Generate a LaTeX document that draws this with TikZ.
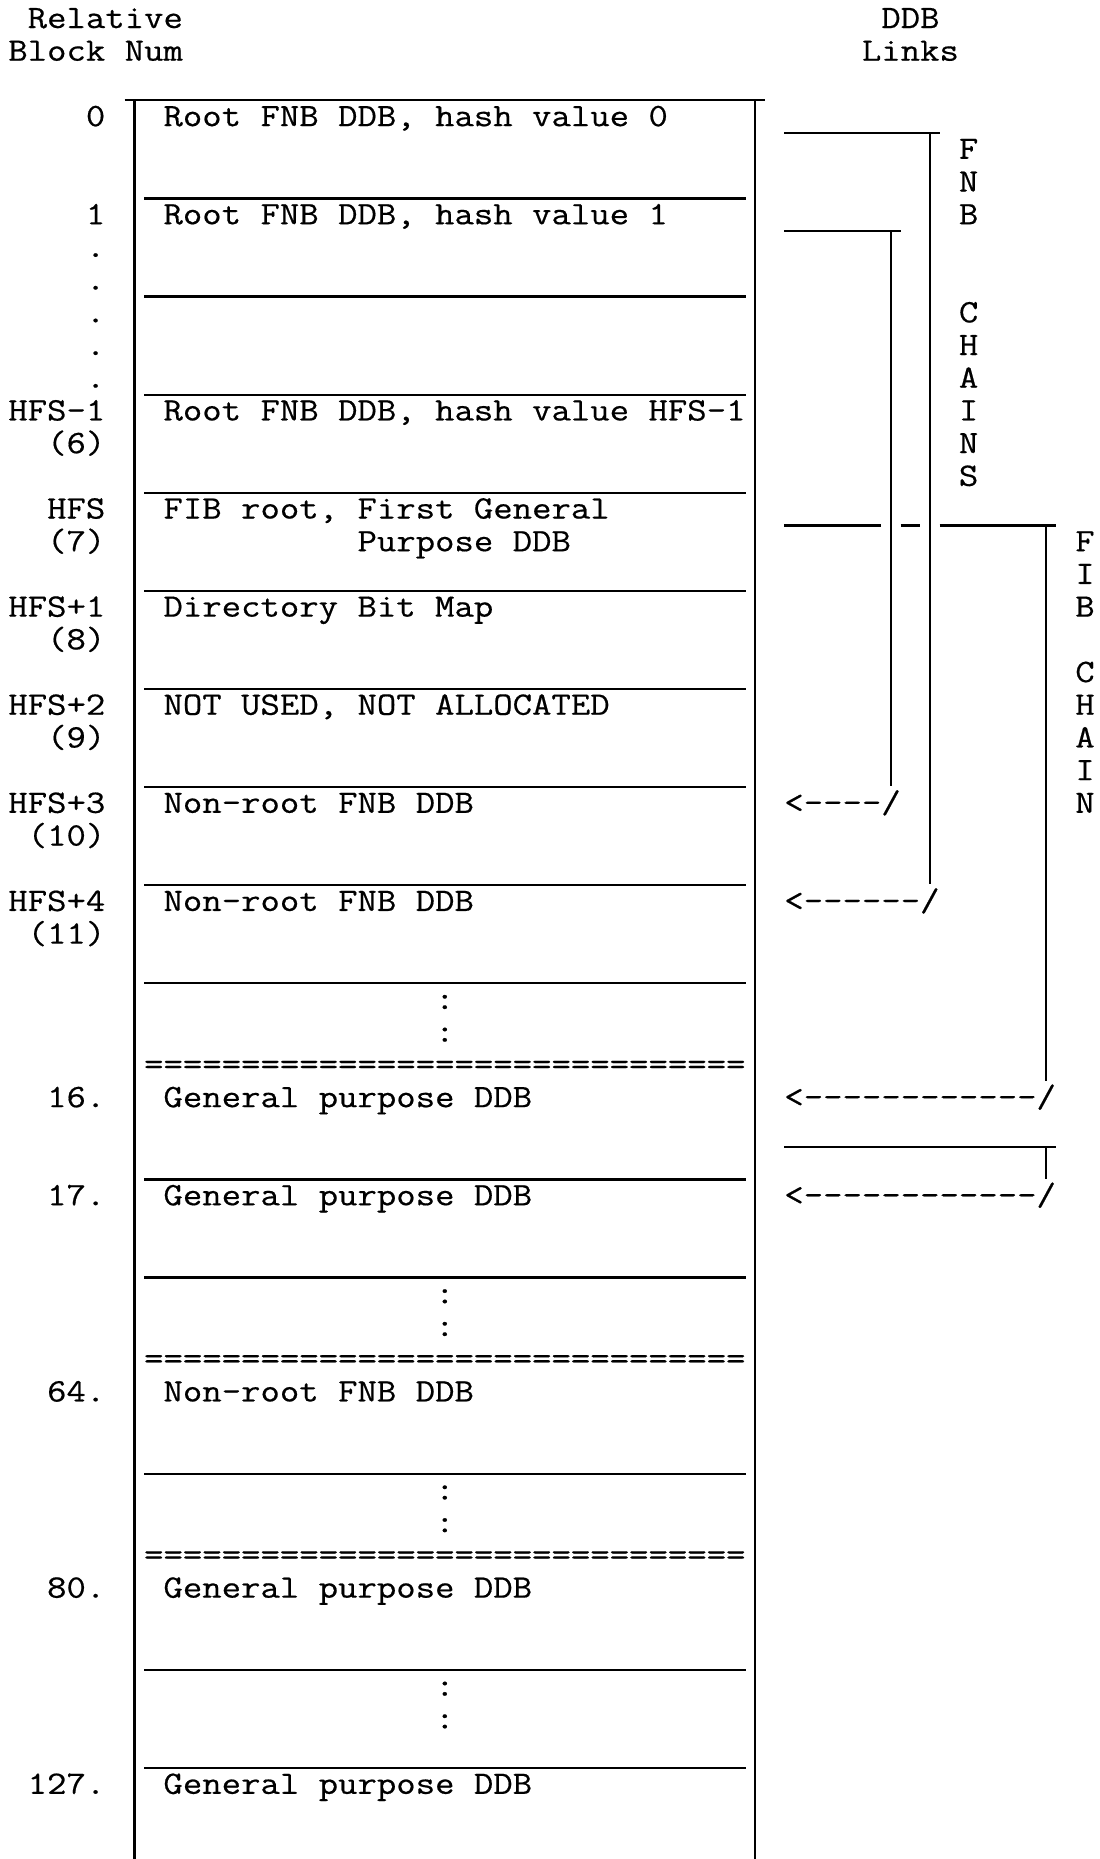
\documentclass[tikz,border=0pt]{standalone}
\usepackage{tikz}
\usepackage{fontspec}
\newfontfamily\plainmono[Ligatures=TeXOff]{Latin Modern Mono}
\newlength\mycharw
\sbox0{\plainmono\fontsize{16.35pt}{18pt}\selectfont M}
\setlength\mycharw{\wd0}
\pgfmathsetmacro\mystretch{9.7/\mycharw}
\edef\mydefinefont{\noexpand\newfontfamily\noexpand\codefont[Ligatures=TeXOff,FakeStretch=\mystretch,FakeBold=0.5]{Latin Modern Mono}}
\mydefinefont
\begin{document}
\begin{tikzpicture}[x=9.7pt,y=-16.35pt,
  txt/.style={font=\codefont\fontsize{16.35pt}{18pt}\selectfont, inner sep=0pt, outer sep=0pt, anchor=base west},
  lbl/.style={txt, anchor=base east},
  ctr/.style={txt, anchor=base},
  rule/.style={line width=1.1pt},
]
\useasboundingbox (-0.928,-3.547) rectangle (55.773,53.303);

% headers
\node[txt] (hrel) at (0.5,-2.69) {Relative};
\node[txt] (hblk) at (-0.5,-1.69) {Block Num};
\node[txt] (hddb) at (44.5,-2.69) {DDB};
\node[txt] (hlnk) at (43.5,-1.69) {Links};

% box frame
\coordinate (tl) at (5.5,-0.48);
\coordinate (tr) at (38.5,-0.48);
\coordinate (lt) at (6,-0.48);
\coordinate (lb) at (6,53.4);
\coordinate (rt) at (38,-0.48);
\coordinate (rb) at (38,53.4);
\draw[rule] (tl) -- (tr);
\draw[rule] (lt) -- (lb);
\draw[rule] (rt) -- (rb);

% row separators
\foreach \n in {2,5,8,11,14,17,20,23,26,32,35,41,47,50}{
  \coordinate (sl\n) at (6.5,\n+0.52);
  \coordinate (sr\n) at (37.5,\n+0.52);
  \draw[rule] (sl\n) -- (sr\n);
}

% left labels
\node[lbl] (l0) at (4.5,0.31) {0};
\node[lbl] (l1) at (4.5,3.31) {1};
\foreach \n in {4,...,8}{\node[lbl] (dot\n) at (4.5,\n+0.31) {.};}
\node[lbl] (l9) at (4.5,9.31) {HFS-1};
\node[lbl] (l10) at (4.5,10.31) {(6)};
\node[lbl] (l12) at (4.5,12.31) {HFS};
\node[lbl] (l13) at (4.5,13.31) {(7)};
\node[lbl] (l15) at (4.5,15.31) {HFS+1};
\node[lbl] (l16) at (4.5,16.31) {(8)};
\node[lbl] (l18) at (4.5,18.31) {HFS+2};
\node[lbl] (l19) at (4.5,19.31) {(9)};
\node[lbl] (l21) at (4.5,21.31) {HFS+3};
\node[lbl] (l22) at (4.5,22.31) {(10)};
\node[lbl] (l24) at (4.5,24.31) {HFS+4};
\node[lbl] (l25) at (4.5,25.31) {(11)};
\node[lbl] (l30) at (4.5,30.31) {16.};
\node[lbl] (l33) at (4.5,33.31) {17.};
\node[lbl] (l39) at (4.5,39.31) {64.};
\node[lbl] (l45) at (4.5,45.31) {80.};
\node[lbl] (l51) at (4.5,51.31) {127.};

% box contents
\node[txt] (t0) at (7.5,0.31) {Root FNB DDB, hash value 0};
\node[txt] (t3) at (7.5,3.31) {Root FNB DDB, hash value 1};
\node[txt] (t9) at (7.5,9.31) {Root FNB DDB, hash value HFS-1};
\node[txt] (t12) at (7.5,12.31) {FIB root, First General};
\node[txt] (t13) at (17.5,13.31) {Purpose DDB};
\node[txt] (t15) at (7.5,15.31) {Directory Bit Map};
\node[txt] (t18) at (7.5,18.31) {NOT USED, NOT ALLOCATED};
\node[txt] (t21) at (7.5,21.31) {Non-root FNB DDB};
\node[txt] (t24) at (7.5,24.31) {Non-root FNB DDB};
\foreach \n in {27,28,36,37,42,43,48,49}{\node[ctr] (c\n) at (22,\n+0.31) {:};}
\foreach \n in {29,38,44}{\node[txt] (eq\n) at (6.5,\n+0.31) {===============================};}
\node[txt] (t30) at (7.5,30.31) {General purpose DDB};
\node[txt] (t33) at (7.5,33.31) {General purpose DDB};
\node[txt] (t39) at (7.5,39.31) {Non-root FNB DDB};
\node[txt] (t45) at (7.5,45.31) {General purpose DDB};
\node[txt] (t51) at (7.5,51.31) {General purpose DDB};

% chain labels
\foreach \ch/\n in {F/1,N/2,B/3,C/6,H/7,A/8,I/9,N/10,S/11}{\node[ctr] (fnb\n) at (49,\n+0.31) {\ch};}
\foreach \ch/\n in {F/13,I/14,B/15,C/17,H/18,A/19,I/20,N/21}{\node[ctr] (fib\n) at (55,\n+0.31) {\ch};}

% arrows (text)
\node[txt] (ar21) at (39.5,21.31) {<----/};
\node[txt] (ar24) at (39.5,24.31) {<------/};
\node[txt] (ar30) at (39.5,30.31) {<------------/};
\node[txt] (ar33) at (39.5,33.31) {<------------/};

% FNB chain 0
\coordinate (a0s) at (39.5,0.52);
\coordinate (a0e) at (47.5,0.52);
\coordinate (a0t) at (47,0.52);
\coordinate (a0b) at (47,23.5);
\draw[rule] (a0s) -- (a0e);
\draw[rule] (a0t) -- (a0b);
% FNB chain 1
\coordinate (a1s) at (39.5,3.52);
\coordinate (a1e) at (45.5,3.52);
\coordinate (a1t) at (45,3.52);
\coordinate (a1b) at (45,20.5);
\draw[rule] (a1s) -- (a1e);
\draw[rule] (a1t) -- (a1b);
% FIB chain
\coordinate (f1) at (39.5,12.52);
\coordinate (f2) at (44.5,12.52);
\coordinate (f3) at (45.5,12.52);
\coordinate (f4) at (46.5,12.52);
\coordinate (f5) at (47.5,12.52);
\coordinate (f6) at (53.5,12.52);
\coordinate (ft) at (53,12.52);
\coordinate (fb) at (53,29.5);
\draw[rule] (f1) -- (f2);
\draw[rule] (f3) -- (f4);
\draw[rule] (f5) -- (f6);
\draw[rule] (ft) -- (fb);
% 16 -> 17 link
\coordinate (g1) at (39.5,31.52);
\coordinate (g2) at (53.5,31.52);
\coordinate (gt) at (53,31.52);
\coordinate (gb) at (53,32.5);
\draw[rule] (g1) -- (g2);
\draw[rule] (gt) -- (gb);
\end{tikzpicture}
\end{document}
